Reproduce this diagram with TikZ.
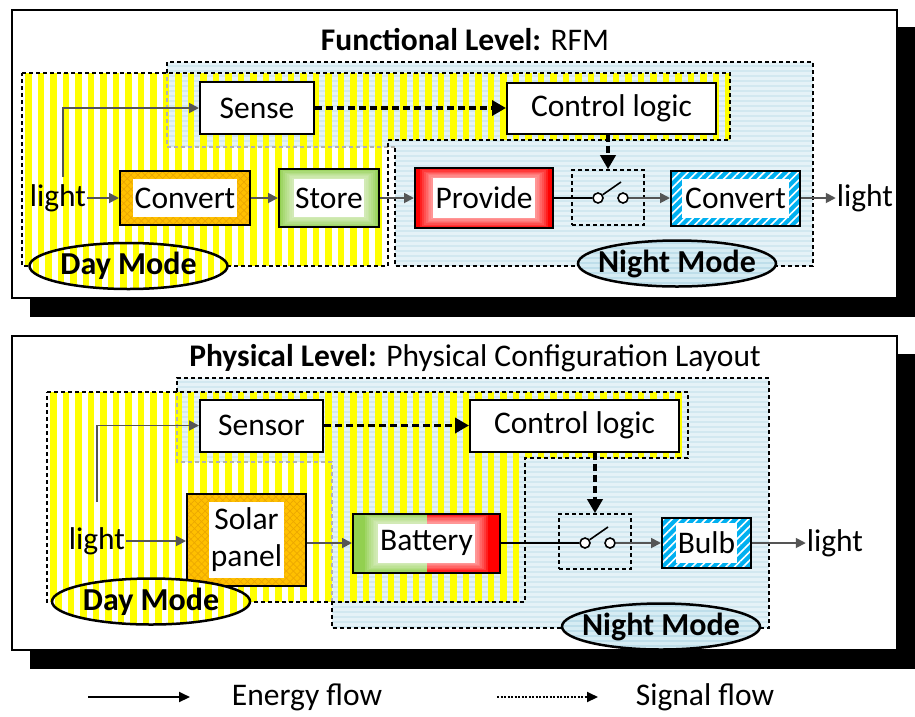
\documentclass[tikz,border=0pt]{standalone}
\usepackage{fontspec}
\setmainfont{Carlito}
\usetikzlibrary{arrows.meta,shapes.geometric,patterns,patterns.meta}
\definecolor{ylw}{RGB}{255,255,0}
\definecolor{nbase}{RGB}{210,232,240}
\definecolor{nlight}{RGB}{229,242,247}
\definecolor{nell}{RGB}{190,222,234}
\definecolor{nell2}{RGB}{214,236,243}
\definecolor{orng}{RGB}{255,192,0}
\definecolor{orngd}{RGB}{236,168,0}
\definecolor{grn}{RGB}{146,208,80}
\definecolor{rd}{RGB}{255,0,0}
\definecolor{blu}{RGB}{0,176,240}
\definecolor{arrg}{RGB}{85,85,85}
\newcommand\whiteinset[2]{\fill[white] ([shift={(#1,-#2)}]path picture bounding box.north west) rectangle ([shift={(-#1,#2)}]path picture bounding box.south east);}
\newcommand\glowinset[2]{\foreach \k in {1,...,7} \fill[white,fill opacity=0.12] ([shift={(#1-\k*1.8pt,-#2+\k*1.3pt)}]path picture bounding box.north west) rectangle ([shift={(-#1+\k*1.8pt,#2-\k*1.3pt)}]path picture bounding box.south east);}
\begin{document}
\begin{tikzpicture}[x=1pt,y=-1pt,
 txt/.style={font=\fontsize{31.5}{37}\selectfont, inner sep=1pt},
 boxbase/.style={txt, draw=black, line width=2pt, inner sep=0pt},
 wbox/.style={boxbase, fill=white},
 region/.style={line width=1.6pt, dash pattern=on 4pt off 3pt},
 energy/.style={draw=arrg, line width=1.8pt, -{Triangle[length=10pt,width=10pt]}},
 wire/.style={draw=black, line width=1.6pt},
 signal/.style={draw=black, line width=3.5pt, dash pattern=on 7pt off 4pt, -{Triangle[length=14pt,width=15pt]}},
 swbox/.style={draw=black, line width=1.6pt, dash pattern=on 4pt off 3pt},
 circ/.style={circle, draw=black, line width=1.6pt, fill=white, minimum size=10pt, inner sep=0pt},
 obox/.style 2 args={boxbase, path picture={
   \fill[orng] (path picture bounding box.south west) rectangle (path picture bounding box.north east);
   \fill[pattern={Lines[angle=45,distance=5pt,line width=0.7pt]}, pattern color=orngd] (path picture bounding box.south west) rectangle (path picture bounding box.north east);
   \fill[pattern={Lines[angle=-45,distance=5pt,line width=0.7pt]}, pattern color=orngd] (path picture bounding box.south west) rectangle (path picture bounding box.north east);
   \whiteinset{#1}{#2}}},
 gbox/.style 2 args={boxbase, path picture={
   \fill[grn] (path picture bounding box.south west) rectangle (path picture bounding box.north east);
   \glowinset{#1}{#2}
   \whiteinset{#1}{#2}}},
 rbox/.style 2 args={boxbase, path picture={
   \fill[rd] (path picture bounding box.south west) rectangle (path picture bounding box.north east);
   \glowinset{#1}{#2}
   \whiteinset{#1}{#2}}},
 bbox/.style 2 args={boxbase, path picture={
   \fill[blu] (path picture bounding box.south west) rectangle (path picture bounding box.north east);
   \fill[pattern={Lines[angle=45,distance=6pt,line width=1.6pt]}, pattern color=white] (path picture bounding box.south west) rectangle (path picture bounding box.north east);
   \whiteinset{#1}{#2}}},
 batbox/.style={boxbase, path picture={
   \fill[grn] (path picture bounding box.south west) rectangle (path picture bounding box.north);
   \fill[rd] (path picture bounding box.south) rectangle (path picture bounding box.north east);
   \glowinset{25pt}{10pt}
   \whiteinset{25pt}{10pt}}},
 ellbase/.style={ellipse, draw=black, line width=2.5pt, minimum width=198pt, minimum height=46pt, inner xsep=-16pt, inner ysep=0pt, font=\fontsize{32}{38}\selectfont\bfseries},
 dayell/.style={ellbase, path picture={
   \fill[white] (path picture bounding box.south west) rectangle (path picture bounding box.north east);
   \foreach \i in {0,...,16} \fill[ylw] ([xshift=\i*12.5pt+3pt]path picture bounding box.south west) rectangle ++(6.5pt,60pt);}},
 nightell/.style={ellbase, path picture={
   \fill[nell] (path picture bounding box.south west) rectangle (path picture bounding box.north east);
   \foreach \j in {0,...,11} \fill[nell2] ([yshift=\j*5pt]path picture bounding box.south west) rectangle ++(220pt,2.5pt);}},
 legE/.style={draw=black, line width=2pt, -{Triangle[length=11pt,width=10pt]}},
 legS/.style={draw=black, line width=2pt, dash pattern=on 2pt off 1.5pt, -{Triangle[length=11pt,width=10pt]}}
]
\useasboundingbox (0,0) rectangle (915,716);
% ---------- panels
\fill[black] (30,27) rectangle (915,317);
\draw[line width=1.5pt, fill=white] (12,10) rectangle (897,298);
\fill[black] (30,354) rectangle (915,669);
\draw[line width=1.5pt, fill=white] (12,336) rectangle (897,650);
% ---------- top regions
\begin{scope}
\clip (167,62) -- (813,62) -- (813,266) -- (395,266) -- (395,147) -- (167,147) -- cycle;
\fill[nbase] (167,62) rectangle (813,266);
\foreach \y in {62,67,...,266} \fill[nlight] (167,\y) rectangle (813,\y+2.5);
\end{scope}
\begin{scope}
\clip (22,73) -- (730,73) -- (730,140) -- (388,140) -- (388,266) -- (22,266) -- cycle;
\foreach \x in {25,37.5,...,730} \fill[ylw] (\x,73) rectangle (\x+6.5,266);
\end{scope}
\draw[region] (167,73) -- (167,62) -- (813,62) -- (813,266) -- (395,266) -- (395,147);
\draw[region, draw=gray!60] (395,147) -- (167,147) -- (167,73);
\draw[region] (22,73) -- (730,73) -- (730,140) -- (388,140) -- (388,266) -- (22,266) -- cycle;
% ---------- bottom regions
\begin{scope}
\clip (177,378) -- (769,378) -- (769,628) -- (332,628) -- (332,462) -- (177,462) -- cycle;
\fill[nbase] (177,378) rectangle (769,628);
\foreach \y in {378,383,...,628} \fill[nlight] (177,\y) rectangle (769,\y+2.5);
\end{scope}
\begin{scope}
\clip (47,392) -- (688,392) -- (688,458) -- (525,458) -- (525,602) -- (47,602) -- cycle;
\foreach \x in {50,62.5,...,688} \fill[ylw] (\x,392) rectangle (\x+6.5,602);
\end{scope}
\draw[region] (177,392) -- (177,378) -- (769,378) -- (769,628) -- (332,628) -- (332,602);
\draw[region, draw=gray!60] (332,602) -- (332,462) -- (177,462) -- (177,392);
\draw[region] (47,392) -- (688,392) -- (688,458) -- (525,458) -- (525,602) -- (47,602) -- cycle;
% ---------- titles
\node[txt] (t1) at (465,40) {\textbf{Functional Level:} RFM};
\node[txt] (t2) at (475,358) {\textbf{Physical Level:} Physical Configuration Layout};
% ---------- top nodes
\node[wbox, minimum width=114pt, minimum height=52pt] (sense) at (257,108) {Sense};
\node[wbox, minimum width=209pt, minimum height=51pt] (ctrl1) at (611.5,108) {Control logic};
\node[obox={13pt}{8pt}, minimum width=130pt, minimum height=54pt] (conv1) at (185,198) {Convert};
\node[gbox={15pt}{10pt}, minimum width=100pt, minimum height=58pt] (store) at (329,198) {Store};
\node[rbox={18pt}{10pt}, minimum width=138pt, minimum height=60pt] (prov) at (484,198) {Provide};
\node[swbox, minimum width=72pt, minimum height=55pt] (sw1) at (608,197.5) {};
\node[circ] (s1a) at (598,198) {};
\node[circ] (s1b) at (623,198) {};
\coordinate (s1t) at (621,182);
\node[bbox={11pt}{8pt}, minimum width=129pt, minimum height=55pt] (conv2) at (735.5,198) {Convert};
\node[txt] (light1) at (58,198) {light};
\node[txt] (light2) at (865,198) {light};
\coordinate (l1s) at (63,177);
% top connectors
\draw[energy] (light1) -- (conv1);
\draw[energy] (l1s) |- (sense);
\draw[energy] (conv1) -- (store);
\draw[energy] (store) -- (prov);
\draw[wire] (prov) -- (s1a);
\draw[wire] (s1a) -- (s1t);
\draw[energy] (s1b) -- (conv2);
\draw[energy] (conv2) -- (light2);
\draw[signal] (sense) -- (ctrl1);
\draw[signal] (ctrl1.south -| sw1.north) -- (sw1.north);
\node[dayell] (day1) at (128.5,266) {Day Mode};
\node[nightell] (night1) at (677,263.5) {Night Mode};
% ---------- bottom nodes
\node[wbox, minimum width=123pt, minimum height=52pt] (sensor) at (261.5,425.5) {Sensor};
\node[wbox, minimum width=209pt, minimum height=52pt] (ctrl2) at (574.5,425.5) {Control logic};
\node[obox={22pt}{8pt}, minimum width=119pt, minimum height=92pt, align=center] (solar) at (246.5,540) {Solar\\panel};
\node[batbox, minimum width=147pt, minimum height=59pt] (batt) at (426.5,543) {Battery};
\node[swbox, minimum width=72pt, minimum height=55pt] (sw2) at (595,541.5) {};
\node[circ] (s2a) at (585,543) {};
\node[circ] (s2b) at (610,543) {};
\coordinate (s2t) at (608,527);
\node[bbox={14pt}{5pt}, minimum width=89pt, minimum height=50pt] (bulb) at (706.5,543) {Bulb};
\node[txt] (light3) at (97,541) {light};
\node[txt] (light4) at (835,543) {light};
\coordinate (l2s) at (97,502);
% bottom connectors
\draw[energy] (light3) -- (solar.west |- light3);
\draw[energy] (l2s) |- (sensor);
\draw[energy] (solar.east |- batt) -- (batt);
\draw[wire] (batt) -- (s2a);
\draw[wire] (s2a) -- (s2t);
\draw[energy] (s2b) -- (bulb);
\draw[energy] (bulb) -- (light4);
\draw[signal] (sensor) -- (ctrl2);
\draw[signal] (ctrl2.south -| sw2.north) -- (sw2.north);
\node[dayell] (day2) at (151,601.5) {Day Mode};
\node[nightell] (night2) at (661,626.5) {Night Mode};
% ---------- legend
\coordinate (le1) at (88,697);
\coordinate (le2) at (190,697);
\draw[legE] (le1) -- (le2);
\node[txt] (legt1) at (307,697) {Energy flow};
\coordinate (ls1) at (497,697);
\coordinate (ls2) at (598,697);
\draw[legS] (ls1) -- (ls2);
\node[txt] (legt2) at (705,697) {Signal flow};
\end{tikzpicture}
\end{document}
